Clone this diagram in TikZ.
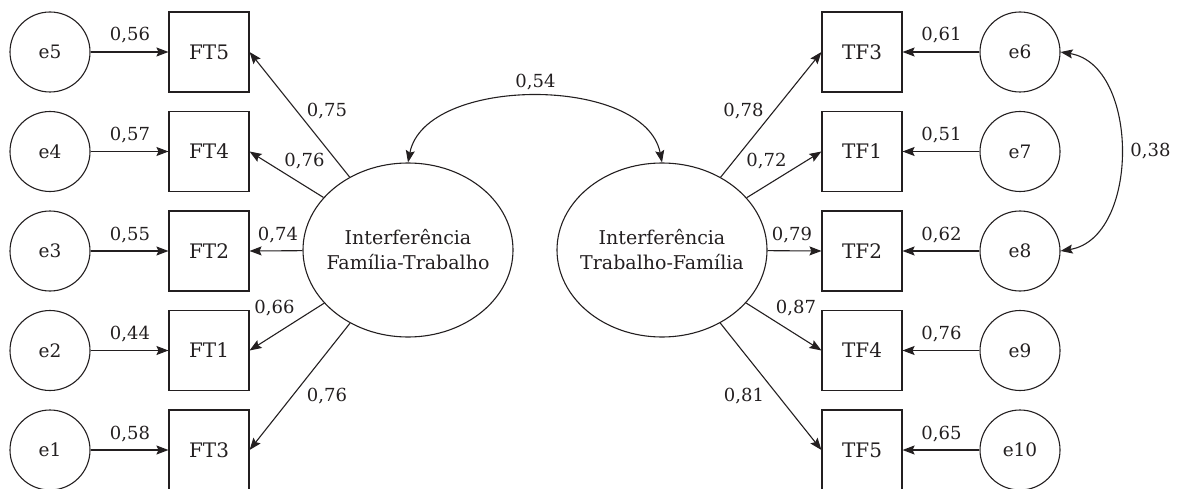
\documentclass[tikz,border=0pt]{standalone}
\usepackage{fontspec}
\setmainfont{DejaVu Serif}
\usetikzlibrary{shapes.geometric,arrows.meta}
\definecolor{ink}{HTML}{231F20}
\begin{document}
\begin{tikzpicture}[x=1pt,y=-1pt,line width=1.1pt,
  errc/.style={circle,draw=ink,minimum size=80pt,inner sep=0pt,font=\fontsize{18.5}{20}\selectfont,text=ink},
  obs/.style={rectangle,draw=ink,minimum size=80pt,inner sep=0pt,font=\fontsize{20}{22}\selectfont,text=ink},
  lat/.style={ellipse,draw=ink,minimum width=210pt,minimum height=174pt,inner xsep=-30pt,inner ysep=0pt,align=center,font=\fontsize{19}{25}\selectfont,text=ink},
  coef/.style={font=\fontsize{18}{20}\selectfont,text=ink,inner sep=0pt,anchor=base},
  arr/.style={draw=ink,-{Stealth[length=12pt,width=9pt,inset=2pt]}},
  dbl/.style={draw=ink,{Stealth[length=12pt,width=9pt,inset=2pt]}-{Stealth[length=12pt,width=9pt,inset=2pt]}}
]
\useasboundingbox (0,0) rectangle (1182,489);
% latent
\node[lat] (fl) at (408,250) {Interferência\\Família-Trabalho};
\node[lat] (fr) at (662,250) {Interferência\\Trabalho-Família};
% left side
\node[errc] (e5) at (50,52) {e5};
\node[errc] (e4) at (50,151.5) {e4};
\node[errc] (e3) at (50,251) {e3};
\node[errc] (e2) at (50,350.5) {e2};
\node[errc] (e1) at (50,450) {e1};
\node[obs] (ft5) at (209,52) {FT5};
\node[obs] (ft4) at (209,151.5) {FT4};
\node[obs] (ft2) at (209,251) {FT2};
\node[obs] (ft1) at (209,350.5) {FT1};
\node[obs] (ft3) at (209,450) {FT3};
% right side
\node[obs] (tf3) at (862,52) {TF3};
\node[obs] (tf1) at (862,151.5) {TF1};
\node[obs] (tf2) at (862,251) {TF2};
\node[obs] (tf4) at (862,350.5) {TF4};
\node[obs] (tf5) at (862,450) {TF5};
\node[errc] (e6) at (1020,52) {e6};
\node[errc] (e7) at (1020,151.5) {e7};
\node[errc] (e8) at (1020,251) {e8};
\node[errc] (e9) at (1020,350.5) {e9};
\node[errc] (e10) at (1020,450) {e10};
% error arrows
\foreach \e/\b in {e5/ft5,e4/ft4,e3/ft2,e2/ft1,e1/ft3,e6/tf3,e7/tf1,e8/tf2,e9/tf4,e10/tf5}
  \draw[arr] (\e) -- (\b);
% loadings
\foreach \b in {ft5,ft4,ft2,ft1,ft3}
  \draw[arr] (fl) -- (\b.east);
\foreach \b in {tf3,tf1,tf2,tf4,tf5}
  \draw[arr] (fr) -- (\b.west);
% covariances
\draw[dbl] (fl.north) .. controls (425,75) and (645,75) .. (fr.north);
\draw[dbl] (e6.east) .. controls (1140,65) and (1140,238) .. (e8.east);
% coefficient labels
\node[coef] (c56) at (130,41) {0,56};
\node[coef] (c57) at (130,140.5) {0,57};
\node[coef] (c55) at (130,240) {0,55};
\node[coef] (c44) at (130,339.5) {0,44};
\node[coef] (c58) at (130,439) {0,58};
\node[coef] (c61) at (941.5,41) {0,61};
\node[coef] (c51) at (941.5,140.5) {0,51};
\node[coef] (c62) at (941.5,240) {0,62};
\node[coef] (c76r) at (941.5,339.5) {0,76};
\node[coef] (c65) at (941.5,439) {0,65};
\node[coef] (c75) at (327,117) {0,75};
\node[coef] (c76a) at (304.5,167) {0,76};
\node[coef] (c74) at (278,240) {0,74};
\node[coef] (c66) at (274.5,313) {0,66};
\node[coef] (c76b) at (327,401) {0,76};
\node[coef] (c54) at (535.5,88) {0,54};
\node[coef] (c78) at (743.5,117) {0,78};
\node[coef] (c72) at (766.5,167) {0,72};
\node[coef] (c79) at (792,240) {0,79};
\node[coef] (c87) at (796,313) {0,87};
\node[coef] (c81) at (744,401) {0,81};
\node[coef] (c38) at (1150.5,157) {0,38};
\end{tikzpicture}
\end{document}
